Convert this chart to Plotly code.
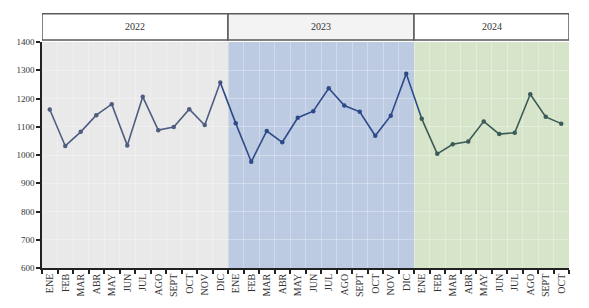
import plotly.graph_objects as go

months = ["ENE", "FEB", "MAR", "ABR", "MAY", "JUN", "JUL", "AGO", "SEPT", "OCT", "NOV", "DIC"]
years = ["2022", "2023", "2024"]
values_2022 = [1161, 1032, 1082, 1141, 1180, 1034, 1206, 1088, 1099, 1162, 1106, 1257]
values_2023 = [1112, 976, 1085, 1045, 1132, 1155, 1236, 1175, 1153, 1068, 1139, 1288]
values_2024 = [1128, 1004, 1038, 1048, 1119, 1074, 1079, 1215, 1135, 1111]

series = [values_2022, values_2023, values_2024]
line_colors = ["#4f5d80", "#2e4a88", "#3c5a58"]
bg_colors = ["#e9e9e9", "#bccbe1", "#d6e5c9"]
header_fills = ["#ffffff", "#f3f3f3", "#ffffff"]

fig = go.Figure()

labels = []
start = 0
spans = []
for i, vals in enumerate(series):
    xs = list(range(start, start + len(vals)))
    labels += months[:len(vals)]
    spans.append((start - 0.5, start + len(vals) - 0.5))
    if i > 0:
        prev = series[i - 1]
        fig.add_trace(go.Scatter(x=[start - 1, start], y=[prev[-1], vals[0]], mode="lines",
                                 line=dict(color=line_colors[1], width=1.6),
                                 showlegend=False, hoverinfo="skip"))
    fig.add_trace(go.Scatter(x=xs, y=vals, mode="lines+markers",
                             line=dict(color=line_colors[i], width=1.6),
                             marker=dict(size=4.5, color=line_colors[i]),
                             showlegend=False))
    start += len(vals)

n = start
plot_h = 226.6
top_y0 = 1 + (41.7 - 39.8) / plot_h
top_y1 = 1 + (41.7 - 13.5) / plot_h
for i, (a, b) in enumerate(spans):
    fig.add_shape(type="rect", xref="x", yref="y", x0=a, x1=b, y0=600, y1=1400,
                  fillcolor=bg_colors[i], line=dict(width=0), layer="below")
    fig.add_shape(type="rect", xref="x", yref="paper", x0=a, x1=b, y0=top_y0, y1=top_y1,
                  fillcolor=header_fills[i], line=dict(color="#5a5a5a", width=1.5))
    fig.add_annotation(x=(a + b) / 2, y=(top_y0 + top_y1) / 2, xref="x", yref="paper",
                       xanchor="center", yanchor="middle",
                       text=years[i], showarrow=False,
                       font=dict(family="Liberation Serif, DejaVu Serif, serif", size=10, color="#333333"))

fig.update_xaxes(
    range=[-0.5, n - 0.5], automargin=False,
    tickmode="array", tickvals=list(range(n)), ticktext=labels,
    tickangle=-90, ticks="", showgrid=False,
    tickfont=dict(family="Liberation Serif, DejaVu Serif, serif", size=10, color="#333333"),
    showline=True, linecolor="#222222", linewidth=1.5,
    minor=dict(tickmode="linear", tick0=-0.5, dtick=1, ticks="outside", ticklen=4,
               tickcolor="#222222", tickwidth=1.5, showgrid=True,
               gridcolor="rgba(255,255,255,0.3)", gridwidth=1),
    zeroline=False,
)
fig.update_yaxes(
    range=[600, 1400], automargin=False, tickmode="linear", tick0=600, dtick=100,
    ticks="outside", ticklen=4, tickcolor="#222222", tickwidth=1.5,
    showline=True, linecolor="#222222", linewidth=1.5,
    showgrid=True, gridcolor="rgba(255,255,255,0.3)", gridwidth=1,
    tickfont=dict(family="Liberation Serif, DejaVu Serif, serif", size=9, color="#333333"),
    zeroline=False,
)
# page body has an 8px default margin, so margins are reduced by 8
fig.update_layout(
    width=589, height=308,
    margin=dict(l=34, r=28, t=34, b=48),
    plot_bgcolor="white", paper_bgcolor="white",
)
fig.write_html("out.html")
